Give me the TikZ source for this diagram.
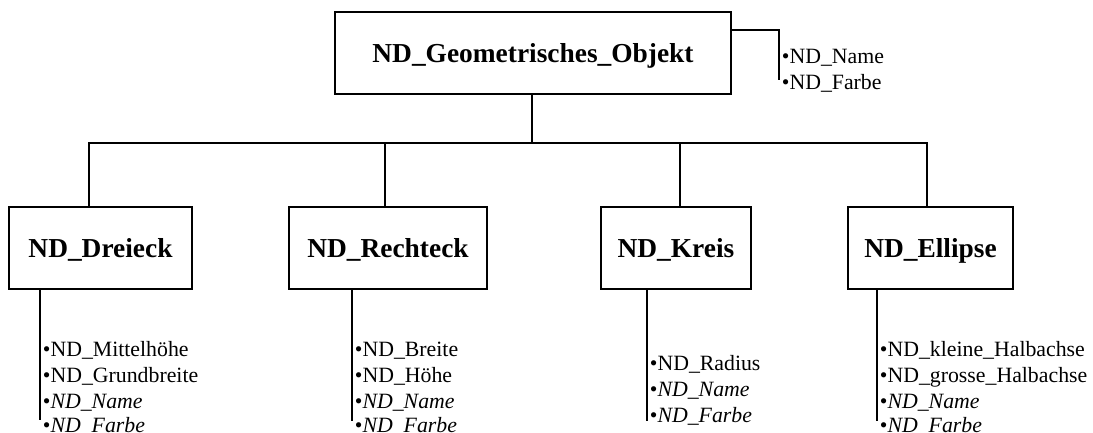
\documentclass[tikz,border=0pt]{standalone}
\usepackage{fontspec}
\setmainfont{Liberation Serif}
\usetikzlibrary{calc}
\begin{document}
\begin{tikzpicture}[x=1pt,y=-1pt,line width=1.8pt,
  box/.style={draw,rectangle,minimum height=82pt,inner sep=0pt,
    font=\fontsize{27.4}{30}\selectfont\bfseries,text height=18pt,text depth=0pt},
  attr/.style={anchor=base west,inner sep=0pt,font=\fontsize{21.8}{26}\selectfont}]
\useasboundingbox (0,0) rectangle (1093,432);
% boxes
\node[box,minimum width=396pt] (top) at (533,53) {ND\_Geometrisches\_Objekt};
\node[box,minimum width=183pt] (dre) at (100.5,248) {ND\_Dreieck};
\node[box,minimum width=198pt] (rec) at (388,248) {ND\_Rechteck};
\node[box,minimum width=150pt] (kre) at (676,248) {ND\_Kreis};
\node[box,minimum width=165pt] (ell) at (930.5,248) {ND\_Ellipse};
% connection points
\coordinate (topc) at ($(top.south)+(-1,0)$);
\coordinate (drec) at ($(dre.north)+(-11.5,0)$);
\coordinate (recc) at ($(rec.north)+(-3,0)$);
\coordinate (krec) at ($(kre.north)+(4,0)$);
\coordinate (ellc) at ($(ell.north)+(-3.5,0)$);
\coordinate (bus) at ($(topc)+(0,48)$);
% tree connectors
\draw (topc) -- (bus);
\draw (drec) |- (bus) -| (ellc);
\draw (recc) -- (recc |- bus);
\draw (krec) -- (krec |- bus);
% top attributes
\coordinate (tstart) at ($(top.north east)+(0,19)$);
\draw (tstart) -| ++(47,50) coordinate (topend);
\node[attr] (tn) at (781,63) {•ND\_Name};
\node[attr] (tf) at (781,89) {•ND\_Farbe};
% Dreieck
\draw ($(dre.south)+(-60.5,0)$) -- ++(0,130);
\node[attr] (d1) at (42,356) {•ND\_Mittelhöhe};
\node[attr] (d2) at (42,382) {•ND\_Grundbreite};
\node[attr] (d3) at (42,408) {•\textit{ND\_Name}};
\node[attr] (d4) at (42,432) {•\textit{ND\_Farbe}};
% Rechteck
\draw ($(rec.south)+(-36,0)$) -- ++(0,131);
\node[attr] (r1) at (354,356) {•ND\_Breite};
\node[attr] (r2) at (354,382) {•ND\_Höhe};
\node[attr] (r3) at (354,408) {•\textit{ND\_Name}};
\node[attr] (r4) at (354,432) {•\textit{ND\_Farbe}};
% Kreis
\draw ($(kre.south)+(-29,0)$) -- ++(0,131);
\node[attr] (k1) at (649,370) {•ND\_Radius};
\node[attr] (k2) at (649,396) {•\textit{ND\_Name}};
\node[attr] (k3) at (649,422) {•\textit{ND\_Farbe}};
% Ellipse
\draw ($(ell.south)+(-53.5,0)$) -- ++(0,131);
\node[attr] (e1) at (879,356) {•ND\_kleine\_Halbachse};
\node[attr] (e2) at (879,382) {•ND\_grosse\_Halbachse};
\node[attr] (e3) at (879,408) {•\textit{ND\_Name}};
\node[attr] (e4) at (879,432) {•\textit{ND\_Farbe}};
\end{tikzpicture}
\end{document}
